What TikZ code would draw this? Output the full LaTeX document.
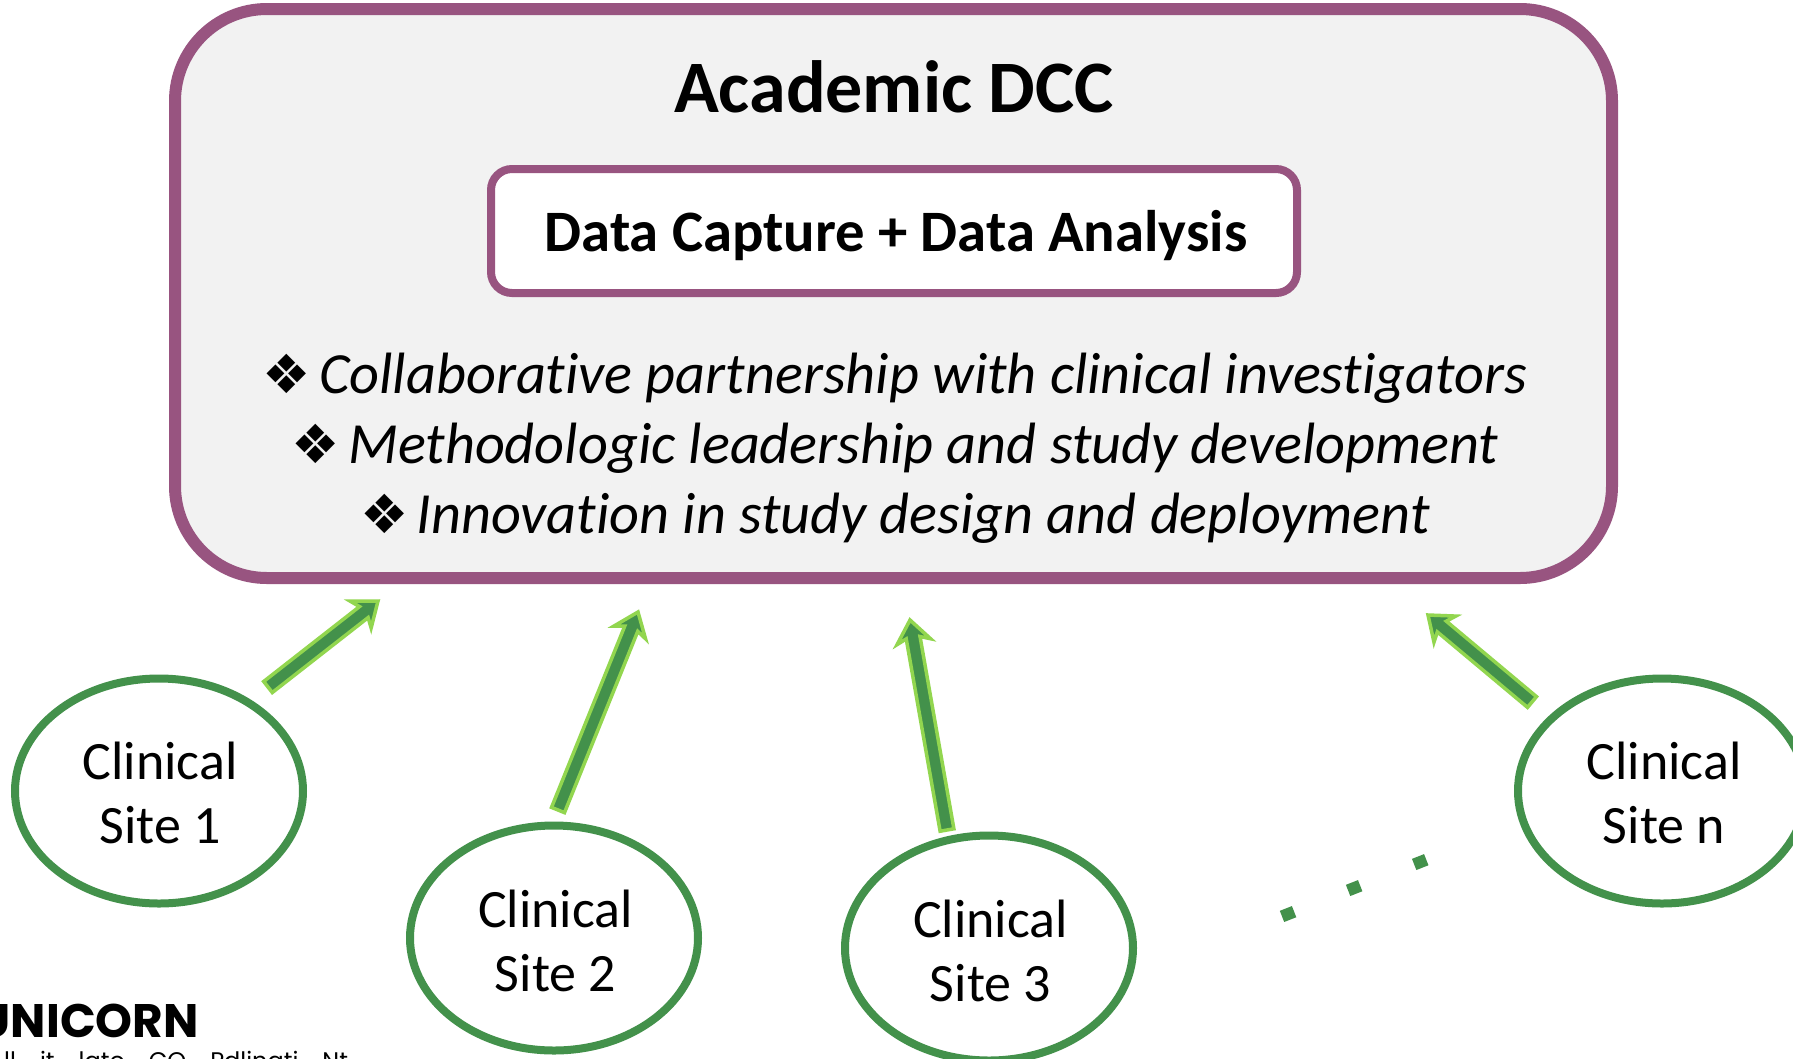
\documentclass[tikz,border=0pt]{standalone}
\usepackage{fontspec}
\setmainfont[Ligatures=NoCommon]{Carlito}
\newfontfamily\logofont{Poppins}
\newfontfamily\symfont{DejaVu Sans}
\usetikzlibrary{calc,shapes.geometric}
\definecolor{plum}{HTML}{985480}
\definecolor{panel}{HTML}{F2F2F2}
\definecolor{sitegreen}{HTML}{43914B}
\definecolor{limeedge}{HTML}{92D64F}
\tikzset{
  x=1pt,y=-1pt,
  dcc/.style={draw=plum,line width=12pt,fill=panel,rounded corners=92pt},
  capture/.style={draw=plum,line width=8pt,fill=white,rounded corners=21pt},
  site/.style={ellipse,draw=sitegreen,line width=8pt,fill=white,inner sep=0pt,
    minimum width=288pt,minimum height=225pt},
  sitetext/.style={align=center,text=black,inner sep=0pt,
    font=\fontsize{54}{64}\selectfont},
  fatarrow/.style={draw=limeedge,fill=sitegreen,line width=3.5pt,miter limit=10,line join=miter},
  bullet/.style={font=\fontsize{58.3}{64}\itshape\selectfont,text=black,anchor=base,inner sep=0pt},
  etc/.style={draw=sitegreen,line width=12pt,dash pattern=on 13pt off 58pt}
}
\newcommand{\bsym}{{\symfont\fontsize{54}{54}\selectfont\upshape ❖}\hspace{-5pt}}
% tail, tip: centre line of the arrow
\newcommand{\fatarrowpath}[2]{%
  \draw[fatarrow]
    ($(#1)!7pt!-90:(#2)$) --
    ($($(#2)!18pt!(#1)$)!7pt!-90:(#2)$) --
    ($($(#2)!22pt!(#1)$)!17pt!-90:(#2)$) --
    (#2) --
    ($($(#2)!22pt!(#1)$)!17pt!90:(#2)$) --
    ($($(#2)!18pt!(#1)$)!7pt!90:(#2)$) --
    ($(#1)!7pt!90:(#2)$) -- cycle;}
\begin{document}
\begin{tikzpicture}
\clip (0,0) rectangle (1793,1058);
\fill[white] (0,0) rectangle (1793,1058);
\draw[dcc] (175,9) rectangle (1612,578);
\node[font=\fontsize{74}{80}\bfseries\selectfont] (title) at (894,87) {Academic DCC};
\draw[capture] (491,169) rectangle (1297,293);
\node[font=\fontsize{58.7}{64}\bfseries\selectfont] (capturelabel) at (896,236) {Data Capture + Data Analysis};
\node[bullet] (b1) at (895,393) {\bsym{} Collaborative partnership with clinical investigators};
\node[bullet] (b2) at (895,463) {\bsym{} Methodologic leadership and study development};
\node[bullet] (b3) at (895,533) {\bsym{} Innovation in study design and deployment};
\node[site] (s1) at (159,791) {};
\node[site] (s2) at (554,938) {};
\node[site] (s3) at (989,948) {};
\node[site] (sn) at (1662,791) {};
\node[sitetext] (l1) at ([xshift=1pt,yshift=-2pt]s1.center) {Clinical\\Site 1};
\node[sitetext] (l2) at ([xshift=1.5pt,yshift=-3pt]s2.center) {Clinical\\Site 2};
\node[sitetext] (l3) at ([xshift=1.5pt,yshift=-3pt]s3.center) {Clinical\\Site 3};
\node[sitetext] (ln) at ([xshift=2pt,yshift=-2pt]sn.center) {Clinical\\Site n};
\coordinate (t1) at (268,687); \coordinate (h1) at (378,601);
\coordinate (t2) at (558,810); \coordinate (h2) at (638,612);
\coordinate (t3) at (947,830); \coordinate (h3) at (910,620);
\coordinate (tn) at (1532,702); \coordinate (hn) at (1428,615);
\fatarrowpath{t1}{h1}
\fatarrowpath{t2}{h2}
\fatarrowpath{t3}{h3}
\fatarrowpath{tn}{hn}
\coordinate (d0) at (1282,916.4); \coordinate (d1) at (1428,859);
\draw[etc] (d0) -- (d1);
\node[font=\logofont\bfseries\fontsize{47}{47}\selectfont,anchor=base east,inner sep=0pt] (logo) at (199,1037) {UNICORN};
\node[font=\logofont\fontsize{24}{24}\selectfont,anchor=base west,inner sep=0pt] (sub) at (4,1069) {ll\quad it\quad lato\quad CO\quad Pdlinati\quad Nt};
\end{tikzpicture}
\end{document}
